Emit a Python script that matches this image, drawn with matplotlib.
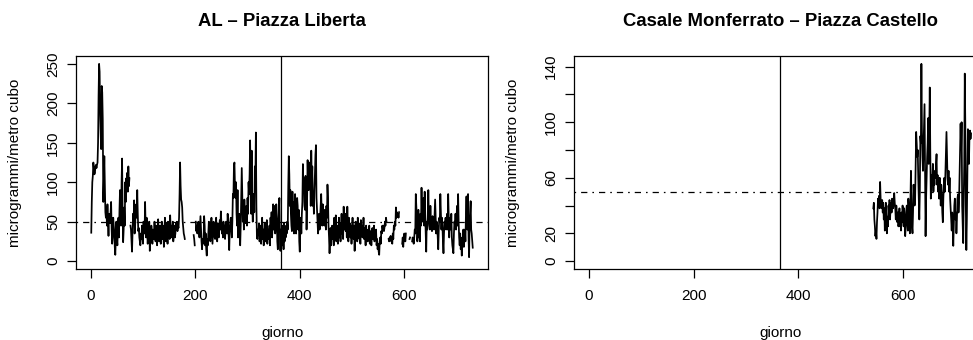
import numpy as np
import matplotlib
matplotlib.use("Agg")
import matplotlib.pyplot as plt

nan = np.nan

# PM10 giornaliero, AL - Piazza Liberta (giorni 1..731)
pm_al = [
    36, 75, 100, 108, 125, 118, 110, 112, 120, 122,
    118, 122, 125, 150, 210, 250, 240, 185, 160, 142,
    222, 214, 180, 75, 100, 133, 95, 62, 55, 68,
    45, 72, 50, 32, 60, 55, 48, 62, 75, 40,
    22, 30, 55, 45, 38, 18, 8, 30, 50, 28,
    20, 45, 55, 30, 65, 90, 70, 45, 100, 130,
    60, 24, 40, 68, 45, 100, 75, 105, 92, 112,
    88, 120, 95, 105, nan, 45, 40, 25, 12, 35,
    60, 50, 77, 35, 45, 65, 72, 55, 90, 60,
    38, 42, 30, 25, 20, 35, 28, 45, 30, 22,
    50, 40, 35, 75, 45, 30, 55, 40, 22, 35,
    28, 50, 13, 30, 25, 45, 35, 22, 40, 30,
    28, 50, 35, 25, 45, 30, 20, 40, 53, 30,
    25, 45, 35, 22, 40, 50, 28, 45, 35, 18,
    40, 55, 30, 25, 48, 38, 22, 50, 35, 42,
    28, 58, 40, 30, 45, 35, 50, 25, 38, 45,
    30, 35, 48, 40, 50, 38, 45, 42, 55, 85,
    125, 95, 78, 75, 68, 50, 42, 35, 32, 28,
    nan, nan, nan, nan, nan, nan, nan, nan, nan, nan,
    nan, nan, nan, nan, nan, nan, 33, 28, 20, nan,
    50, 38, 45, 35, 42, 50, 38, 30, 45, 57,
    40, 25, 15, 28, 22, 30, 57, 45, 20, 35,
    15, 7, 28, 20, 35, 50, 42, 30, 25, 45,
    55, 40, 22, 35, 50, 45, 30, 28, 40, 55,
    35, 25, 48, 38, 30, 45, 52, 40, 63, 48,
    35, 42, 30, 50, 38, 45, 28, 40, 50, 45,
    35, 60, 48, 30, 14, 40, 50, 55, 40, 30,
    50, 85, 80, 120, 125, 95, 80, 100, 60, 45,
    90, 30, 45, 60, 35, 20, 45, 80, 118, 80,
    50, 65, 40, 78, 55, 48, 60, 70, 45, 80,
    60, 100, 85, 110, 153, 90, 60, 140, 75, 50,
    60, 85, 62, 120, 100, 163, 70, 30, 28, 40,
    35, 48, 25, 30, 45, 22, 38, 55, 28, 40,
    20, 35, 48, 25, 42, 30, 52, 22, 40, 35,
    28, 45, 20, 55, 38, 62, 30, 45, 72, 40,
    70, 50, 35, 45, 72, 60, 25, 15, 48, 60,
    80, 35, 13, 40, 30, 45, 20, 38, 15, 48,
    25, 40, 30, 45, 35, 50, 40, 95, 133, 110,
    70, 90, 60, 45, 38, 88, 60, 75, 35, 55,
    85, 72, 35, 60, 80, 70, 40, 65, 25, 12,
    40, 55, 35, 60, 75, 123, 90, 105, 70, 65,
    108, 95, 40, 75, 128, 100, 90, 125, 105, 110,
    70, 140, 100, 120, 70, 85, 60, 90, 110, 135,
    147, 80, 65, 50, 35, 45, 60, 40, 55, 70,
    85, 60, 45, 72, 55, 50, 45, 65, 55, 40,
    70, 55, 97, 80, 45, 30, 10, 25, 42, 20,
    35, 45, 28, 42, 20, 55, 38, 30, 58, 25,
    45, 35, 22, 40, 55, 30, 48, 25, 42, 60,
    35, 50, 28, 69, 45, 40, 60, 38, 52, 30,
    69, 42, 25, 55, 38, 48, 30, 45, 22, 40,
    55, 35, 28, 45, 13, 38, 50, 30, 42, 25,
    55, 35, 48, 28, 40, 22, 52, 35, 45, 30,
    38, 55, 28, 42, 35, 20, 45, 30, 38, 25,
    40, 32, 45, 22, 30, 38, 20, 35, 42, 28,
    32, 45, 25, 38, 30, 40, 20, 28, 15, 22,
    12, 8, 25, 30, 22, 38, 35, 45, 40, 45,
    38, 42, 50, 45, 55, 50, nan, nan, nan, 28,
    25, 30, 28, 32, 25, 30, 22, 35, 28, 45,
    40, 50, 45, 68, 55, 62, 58, 60, 55, 62,
    nan, nan, nan, nan, nan, 22, 30, 18, 28, 35,
    30, 25, 35, nan, nan, nan, nan, nan, nan, 28,
    30, nan, nan, nan, 25, 30, 28, 22, 30, 40,
    35, 85, 70, 55, 25, 40, 65, 30, 40, 25,
    60, 45, 93, 55, 70, 50, 80, 45, 88, 60,
    35, 12, 50, 40, 55, 90, 60, 45, 40, 70,
    45, 55, 38, 57, 45, 50, 40, 60, 78, 55,
    35, 50, 45, 30, 15, 40, 55, 50, 85, 60,
    40, 55, 45, 25, 10, 35, 50, 45, 55, 40,
    45, 60, 40, 85, 55, 30, 50, 55, 40, 60,
    30, 20, 15, 10, 35, 50, 45, 60, 40, 55,
    70, 45, 85, 50, 30, 20, 35, 15, 25, 7,
    30, 20, 40, 18, 35, 40, 25, 60, 82, 50,
    40, 85, 30, 5, 45, 60, 76, 40, 35, 25, 17,
]

# Casale Monferrato - Piazza Castello: dati solo dal giorno 544
casale_start = 544
pm_casale = [
    38, 42, 30, 25, 18, 22, 16, 28, 35, 45,
    40, 47, 38, 57, 45, 40, 38, 44, 35, 42,
    30, 38, 22, 35, 42, 28, 20, 32, 25, 40,
    35, 44, 30, 38, 42, 35, 45, 40, 38, 44,
    49, 42, 38, 30, 40, 35, 28, 35, 25, 30,
    38, 25, 30, 22, 35, 28, 40, 32, 25, 38,
    30, 18, 25, 35, 40, 28, 22, 45, 38, 25,
    20, 45, 65, 40, 25, 20, 35, 55, 48, 40,
    45, 70, 93, 85, 75, 80, 60, 45, 30, 50,
    90, 85, 142, 95, 75, 65, 80, 95, 113, 60,
    18, 45, 60, 75, 85, 103, 70, 90, 125, 80,
    45, 55, 62, 58, 70, 50, 62, 55, 65, 60,
    70, 77, 55, 62, 50, 58, 45, 60, 55, 40,
    55, 48, 35, 28, 45, 55, 60, 50, 65, 80,
    93, 75, 60, 55, 65, 50, 60, 45, 38, 30,
    22, 35, 25, 11, 25, 40, 45, 30, 35, 20,
    30, 45, 48, 35, 42, 60, 75, 99, 80, 100,
    40, 25, 13, 45, 70, 135, 100, 40, 8, 30,
    60, 95, 85, 70, 90, 94, 88, 92,
]

limite = 50       # valore limite giornaliero
fine_anno = 365   # separazione tra i due anni
n_giorni = 731

plt.rcParams['font.family'] = ['Liberation Sans', 'DejaVu Sans']

days_al = np.arange(1, len(pm_al) + 1)
days_casale = np.arange(casale_start, casale_start + len(pm_casale))


def r_lim(lo, hi):
    pad = (hi - lo) * 0.04
    return lo - pad, hi + pad


def draw_panel(ax, x, y, title, yticks, ylabels):
    ax.plot(x, y, color='black', lw=1.25)
    ax.axhline(limite, color='black', lw=0.9, linestyle=(0, (1.3, 4, 5, 4)))
    ax.axvline(fine_anno, color='black', lw=0.9)
    ax.set_xlim(*r_lim(1, n_giorni))
    ax.set_ylim(*r_lim(0, np.nanmax(y)))
    ax.set_xticks([0, 200, 400, 600])
    ax.set_yticks(yticks)
    ax.set_yticklabels(ylabels)
    ax.tick_params(length=6.5, width=0.9, labelsize=11)
    ax.tick_params(axis='x', pad=8)
    ax.tick_params(axis='y', labelrotation=90, pad=5)
    for lab in ax.get_yticklabels():
        lab.set_va('center')
    for s in ax.spines.values():
        s.set_linewidth(0.9)
    ax.set_xlabel('giorno', fontsize=11)
    ax.set_ylabel('microgrammi/metro cubo', fontsize=11)
    ax.xaxis.set_label_coords(0.5, -0.30)
    ax.xaxis.label.set_va('center')
    ax.yaxis.set_label_coords(-0.148, 0.5)
    ax.yaxis.label.set_va('center')
    ax.text(0.5, 1 + 35 / 213, title, transform=ax.transAxes, ha='center',
            va='center', fontsize=13.3, fontweight='bold')


fig = plt.figure(figsize=(9.73, 3.40), dpi=100)
ax1 = fig.add_axes([76 / 973, 71 / 340, 412 / 973, 213 / 340])
ax2 = fig.add_axes([574.3 / 973, 71 / 340, 412 / 973, 213 / 340])

draw_panel(ax1, days_al, pm_al, 'AL \u2013 Piazza Liberta',
           [0, 50, 100, 150, 200, 250], ['0', '50', '100', '150', '200', '250'])
draw_panel(ax2, days_casale, pm_casale, 'Casale Monferrato \u2013 Piazza Castello',
           [0, 20, 40, 60, 80, 100, 120, 140],
           ['0', '20', '', '60', '', '100', '', '140'])

fig.savefig('out.png', dpi=100)
